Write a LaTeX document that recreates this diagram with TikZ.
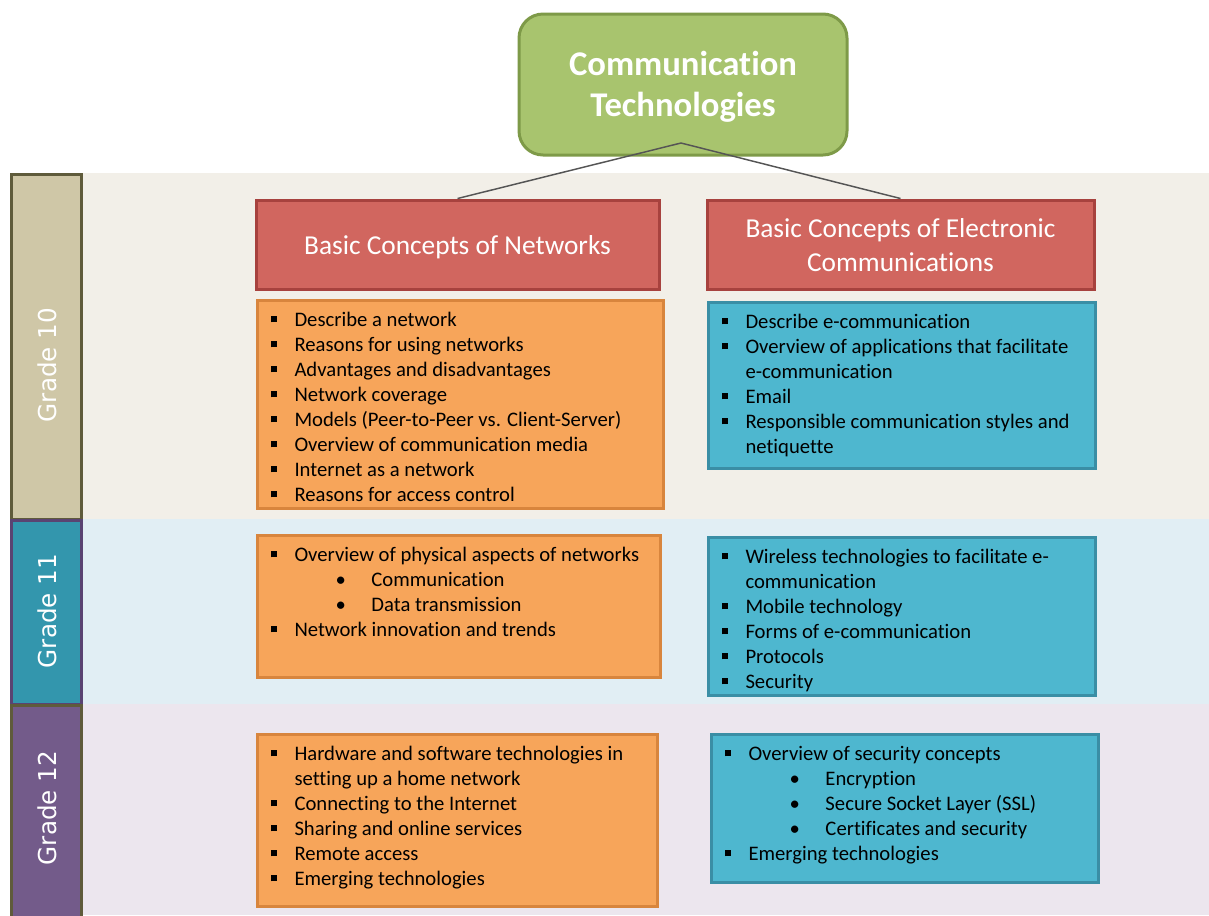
\documentclass[tikz,border=0pt]{standalone}
\usepackage{fontspec}
\setmainfont{Carlito}[Ligatures=NoCommon]
\newfontfamily\gradefont{DejaVu Sans}
\usepackage{xcolor}

\definecolor{titlefill}{RGB}{168,196,110}
\definecolor{titledraw}{RGB}{126,154,72}
\definecolor{headfill}{RGB}{209,102,95}
\definecolor{headdraw}{RGB}{167,66,62}
\definecolor{netfill}{RGB}{247,165,90}
\definecolor{netdraw}{RGB}{216,133,61}
\definecolor{ecomfill}{RGB}{78,183,207}
\definecolor{ecomdraw}{RGB}{58,142,165}
\definecolor{bandten}{RGB}{242,239,232}
\definecolor{bandeleven}{RGB}{225,238,244}
\definecolor{bandtwelve}{RGB}{236,230,238}
\definecolor{barten}{RGB}{207,199,167}
\definecolor{bareleven}{RGB}{51,150,173}
\definecolor{bartwelve}{RGB}{115,91,138}
\definecolor{barolive}{RGB}{95,91,59}
\definecolor{barpurple}{RGB}{90,67,114}

\newdimen\pxu \pxu=0.75pt
\newcommand{\boxfont}{\fontsize{15.5}{18.75}\selectfont\setlength{\parindent}{0pt}\raggedright\leavevmode\rule{0pt}{26\pxu}}
\newcommand{\sqitem}[1]{\noindent\hangindent=37\pxu\hangafter=1\hspace*{13\pxu}\makebox[24\pxu][l]{\rule[0.2em]{6\pxu}{6\pxu}}#1\par}
\newcommand{\dotitem}[1]{\noindent\hspace*{78\pxu}\makebox[36\pxu][l]{\textbullet}#1\par}
\newcommand{\itembox}[3]{\parbox[t][#2][t]{#1}{\boxfont #3}}
\newcommand{\dropby}[2]{\raisebox{-#1\pxu}[\height][\depth]{#2}}

\tikzset{
  titlebox/.style={rounded corners=18pt, fill=titlefill, draw=titledraw, line width=2.25pt,
    minimum width=246pt, minimum height=105.75pt, text=white, align=center,
    font=\fontsize{26}{31}\selectfont\bfseries},
  headbox/.style={fill=headfill, draw=headdraw, line width=2.25pt, minimum height=66.75pt,
    text=white, align=center, font=\fontsize{20.5}{25.5}\selectfont},
  netbox/.style={fill=netfill, draw=netdraw, line width=2.25pt, inner sep=0pt, anchor=north west},
  ecombox/.style={fill=ecomfill, draw=ecomdraw, line width=2.25pt, inner sep=0pt, anchor=north west},
  gradebar/.style={line width=2.25pt},
  gradelabel/.style={rotate=90, text=white, font=\gradefont\fontsize{18.5}{22}\selectfont},
  link/.style={draw={rgb,255:red,85;green,85;blue,85}, line width=1.1pt}
}

\begin{document}
\begin{tikzpicture}[x=0.75pt,y=0.75pt,yscale=-1,xscale=1]
    \useasboundingbox (0,0) rectangle (1209,915);

    %Shape: Rectangle (grade bands)
    \fill [bandten] (82,173) rectangle (1209,519);
    \fill [bandeleven] (82,519) rectangle (1209,704);
    \fill [bandtwelve] (82,704) rectangle (1209,915);

    %Shape: Rectangle (grade bars)
    \draw [gradebar, fill=barten, draw=barolive] (11.5,174.5) rectangle (81.5,519);
    \draw [gradebar, fill=bareleven, draw=barpurple] (11.5,520.5) rectangle (81.5,704);
    \draw [gradebar, fill=bartwelve, draw=barolive] (11.5,705.5) rectangle (81.5,922);

    % Text Node
    \node (g10) [gradelabel] at (47,365) {Grade 10};
    % Text Node
    \node (g11) [gradelabel] at (47,611) {Grade 11};
    % Text Node
    \node (g12) [gradelabel] at (47,808) {Grade 12};

    % Title and headers
    \node (title) [titlebox] at (683,84.5) {\dropby{2}{Communication}\\\dropby{2}{Technologies}};
    \node (netw) [headbox, minimum width=302.25pt] at (457.5,244.5) {\dropby{3}{Basic Concepts of Networks}};
    \node (ecom) [headbox, minimum width=290.25pt] at (900.5,244.5) {\dropby{1}{Basic Concepts of Electronic}\\\dropby{1}{Communications}};

    %Straight Lines
    \coordinate (hub) at (681,143);
    \draw [link] (hub) -- (netw.north);
    \draw [link] (hub) -- (ecom.north);

    % Networks column
    \node (nl10) [netbox] at (256,299) {\itembox{406\pxu}{208\pxu}{%
      \sqitem{Describe a network}
      \sqitem{Reasons for using networks}
      \sqitem{Advantages and disadvantages}
      \sqitem{Network coverage}
      \sqitem{Models (Peer-to-Peer vs. Client-Server)}
      \sqitem{Overview of communication media}
      \sqitem{Internet as a network}
      \sqitem{Reasons for access control}}};
    \node (nl11) [netbox] at (256,534) {\itembox{403\pxu}{142\pxu}{%
      \sqitem{Overview of physical aspects of networks}
      \dotitem{Communication}
      \dotitem{Data transmission}
      \sqitem{Network innovation and trends}}};
    \node (nl12) [netbox] at (256,733) {\itembox{400\pxu}{172\pxu}{%
      \sqitem{Hardware and software technologies in\newline setting up a home network}
      \sqitem{Connecting to the Internet}
      \sqitem{Sharing and online services}
      \sqitem{Remote access}
      \sqitem{Emerging technologies}}};

    % Electronic communications column
    \node (el10) [ecombox] at (707,301) {\itembox{387\pxu}{166\pxu}{%
      \sqitem{Describe e-communication}
      \sqitem{Overview of applications that facilitate\newline e-communication}
      \sqitem{Email}
      \sqitem{Responsible communication styles and\newline netiquette}}};
    \node (el11) [ecombox] at (707,536) {\itembox{387\pxu}{158\pxu}{%
      \sqitem{Wireless technologies to facilitate e-\newline communication}
      \sqitem{Mobile technology}
      \sqitem{Forms of e-communication}
      \sqitem{Protocols}
      \sqitem{Security}}};
    \node (el12) [ecombox] at (710,733) {\itembox{387\pxu}{148\pxu}{%
      \sqitem{Overview of security concepts}
      \dotitem{Encryption}
      \dotitem{Secure Socket Layer (SSL)}
      \dotitem{Certificates and security}
      \sqitem{Emerging technologies}}};

\end{tikzpicture}
\end{document}
